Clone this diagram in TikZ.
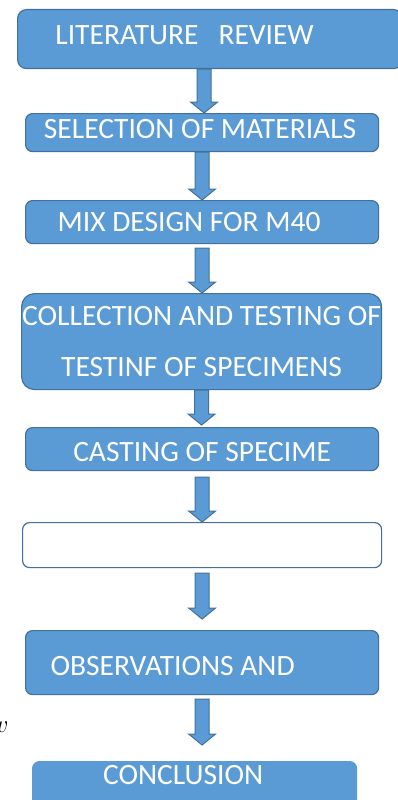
\documentclass[tikz,border=0pt]{standalone}
\usepackage{fontspec}
\setmainfont{Carlito}
\usetikzlibrary{calc}
\definecolor{boxblue}{HTML}{5B9BD5}
\definecolor{edgeblue}{HTML}{41719C}
\tikzset{
  stage/.style={draw=edgeblue, fill=boxblue, line width=1.2pt, rounded corners=7pt,
    text=white, font=\fontsize{29.5}{48}\selectfont, inner sep=0pt, anchor=north west},
  % thick block arrow between two stages
  flow/.style={draw=edgeblue, fill=boxblue, line width=1pt,
    to path={let \p1=(\tikztostart), \p2=(\tikztotarget) in
      (\x1-7pt,\y1) -- (\x1-7pt,\y2+11pt) -- (\x1-13.5pt,\y2+11pt) -- (\x1,\y2)
      -- (\x1+13.5pt,\y2+11pt) -- (\x1+7pt,\y2+11pt) -- (\x1+7pt,\y1) -- cycle}}
}
\begin{document}
\begin{tikzpicture}[x=1pt,y=-1pt]
  \clip (0,0) rectangle (398,800);
  \node[stage, minimum width=385pt, minimum height=59pt, rounded corners=9pt, text depth=9pt] (review) at (17,9)
    {LITERATURE\ \ \ REVIEW\hspace*{51pt}};
  \node[stage, minimum width=353pt, minimum height=38pt, text depth=8pt] (select) at (25,113)
    {SELECTION OF MATERIALS\hspace*{4pt}};
  \node[stage, minimum width=353pt, minimum height=43pt] (mix) at (25,200)
    {MIX DESIGN FOR M40\hspace*{26pt}};
  \node[stage, minimum width=360pt, minimum height=96pt, rounded corners=13pt, align=center] (collect) at (21,293)
    {COLLECTION AND TESTING OF\\[3pt]TESTINF OF SPECIMENS};
  \node[stage, minimum width=353pt, minimum height=43pt, text height=24pt] (cast) at (25,427)
    {CASTING OF SPECIME};
  \node[stage, minimum width=359pt, minimum height=45pt, fill=white] (blank) at (22,522) {};
  \node[stage, minimum width=353pt, minimum height=64pt, text height=26pt] (observe) at (25,630)
    {OBSERVATIONS AND\hspace*{59pt}};
  \node[stage, minimum width=324pt, minimum height=45pt, draw=boxblue, text depth=18pt] (concl) at (32,761)
    {CONCLUSION\hspace*{23pt}};
  \node[anchor=east, font=\fontsize{26}{26}\selectfont] (stray) at (12,727) {$w$};

  \draw[flow] ([xshift=-6pt]review.south) to (select.north);
  \draw[flow] (select.south) to (mix.north);
  \draw[flow] ([yshift=-4pt]mix.south) to (collect.north);
  \draw[flow] (collect.south) to ([yshift=2pt]cast.north);
  \draw[flow] ([yshift=-6pt]cast.south) to (blank.north);
  \draw[flow] ([yshift=-5pt]blank.south) to ([yshift=11pt]observe.north);
  \draw[flow] ([yshift=-4pt]observe.south) to ([yshift=16pt]concl.north);
\end{tikzpicture}
\end{document}
